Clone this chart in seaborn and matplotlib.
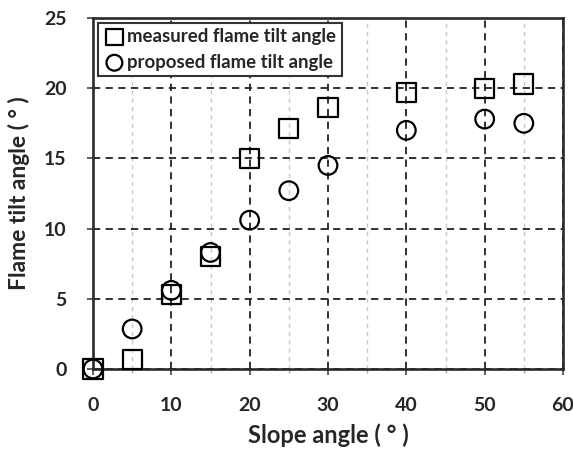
import matplotlib
matplotlib.use("Agg")
import matplotlib.pyplot as plt
import seaborn as sns
import pandas as pd
from matplotlib.ticker import MultipleLocator

slope = [0, 5, 10, 15, 20, 25, 30, 40, 50, 55]
measured = [0.0, 0.7, 5.3, 8.0, 15.0, 17.1, 18.6, 19.7, 20.0, 20.3]
proposed = [0.0, 2.85, 5.6, 8.3, 10.6, 12.7, 14.5, 17.0, 17.8, 17.5]
labels = ["measured flame tilt angle", "proposed flame tilt angle"]

sns.set_style("white")
plt.rcParams['font.family'] = ['Lato', 'DejaVu Sans']

fig = plt.figure(figsize=(5.73, 4.51), dpi=100)
ax = fig.add_axes([93/573, 1-369/451, (563-93)/573, (369-18)/451])

df_m = pd.DataFrame({"x": slope, "y": measured})
df_p = pd.DataFrame({"x": slope, "y": proposed})
sns.scatterplot(data=df_m, x="x", y="y", ax=ax, marker="s", s=190,
                facecolors="none", edgecolor="black", linewidth=1.6,
                label=labels[0], zorder=3, clip_on=False)
sns.scatterplot(data=df_p, x="x", y="y", ax=ax, marker="o", s=180,
                facecolors="none", edgecolor="black", linewidth=1.6,
                label=labels[1], zorder=4, clip_on=False)

ax.set_xlim(0, 60)
ax.set_ylim(0, 25)
ax.xaxis.set_major_locator(MultipleLocator(10))
ax.xaxis.set_minor_locator(MultipleLocator(5))
ax.yaxis.set_major_locator(MultipleLocator(5))

ax.grid(True, which="major", axis="both", color="#222222", linestyle=(0, (4, 3)), linewidth=1.3)
ax.grid(True, which="minor", axis="x", color="#c8c8c8", linestyle=(0, (3, 3)), linewidth=1.0)
ax.set_axisbelow(True)

for sp in ax.spines.values():
    sp.set_visible(True)
    sp.set_color("#2a2a2a")
    sp.set_linewidth(1.9)

ax.tick_params(axis="both", which="major", direction="out", length=4, width=1.2,
               color="#444444", labelsize=14, bottom=True, left=True)
ax.tick_params(axis="x", which="major", pad=16)
ax.tick_params(axis="y", which="major", pad=15)
ax.tick_params(axis="x", which="minor", direction="out", length=3, width=1.0,
               color="#aaaaaa", bottom=True)
for lab in ax.get_xticklabels() + ax.get_yticklabels():
    lab.set_fontweight("bold")

ax.set_xlabel("Slope angle ( ° )", fontsize=17, fontweight="bold", labelpad=7)
ax.set_ylabel("Flame tilt angle ( ° )", fontsize=16.5, fontweight="bold", labelpad=10)

leg = ax.legend(loc="upper left", frameon=True, fancybox=False, edgecolor="#333333",
                fontsize=13.4, handletextpad=0.1, borderpad=0.3, labelspacing=0.45,
                handlelength=1.2, borderaxespad=0.25, markerscale=0.85)
leg.get_frame().set_linewidth(1.5)
leg.get_frame().set_alpha(1)
for t in leg.get_texts():
    t.set_fontweight("bold")

fig.savefig("out.png", dpi=100)
